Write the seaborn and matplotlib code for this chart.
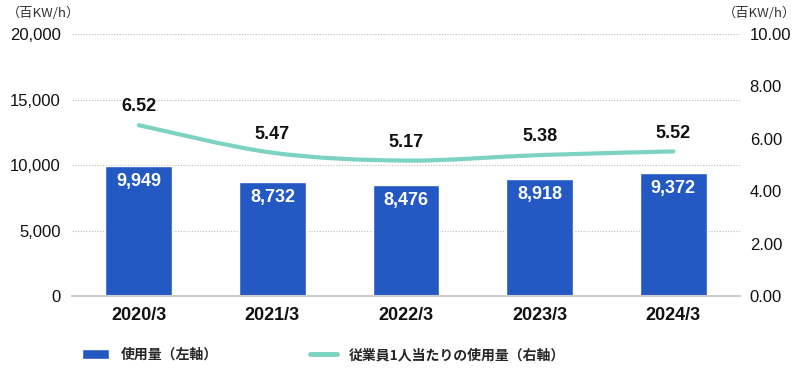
import numpy as np
import seaborn as sns
import matplotlib.pyplot as plt
from matplotlib.path import Path
from matplotlib.patches import PathPatch, Patch
from matplotlib.lines import Line2D

years = ["2020/3", "2021/3", "2022/3", "2023/3", "2024/3"]
usage = [9949, 8732, 8476, 8918, 9372]
per_person = [6.52, 5.47, 5.17, 5.38, 5.52]
left_ticks = [0, 5000, 10000, 15000, 20000]
right_ticks = [0, 2, 4, 6, 8, 10]

bar_color = "#2459C4"
line_color = "#7DD3C1"

sns.set_theme(style="white")
plt.rcParams['font.family'] = ['Liberation Sans', 'Noto Sans CJK JP', 'DejaVu Sans']
jp = ['Noto Sans CJK JP', 'DejaVu Sans']

fig = plt.figure(figsize=(8, 3.7), dpi=100)
ax = fig.add_axes([0.09, 0.2, 0.835, 0.708])

# 棒グラフ（左軸）
sns.barplot(x=years, y=usage, color=bar_color, saturation=1, width=0.5, ax=ax, zorder=2)
ax.set_ylim(0, 20000)
ax.set_xlim(-0.5, 4.5)
ax.set_yticks(left_ticks)
ax.set_yticklabels([f"{v:,}" for v in left_ticks], fontsize=12, color="#111111")
ax.set_xticks(range(len(years)))
ax.set_xticklabels(years, fontsize=13, fontweight="bold", color="#111111")
ax.set_xlabel("")
ax.set_ylabel("")
ax.tick_params(axis="y", length=0, pad=8)
ax.tick_params(axis="x", length=0, pad=8)
ax.yaxis.grid(True, color="#BBBBBB", linestyle=(0, (1, 1.5)), linewidth=0.8)
ax.set_axisbelow(True)
for s in ["top", "left", "right"]:
    ax.spines[s].set_visible(False)
ax.spines["bottom"].set_color("#CCCCCC")
ax.spines["bottom"].set_linewidth(1.5)

for i, v in enumerate(usage):
    ax.annotate(f"{v:,}", (i, v), xytext=(0, -5), textcoords="offset points",
                ha="center", va="top", color="white", fontsize=13, fontweight="bold")

# 折れ線（右軸）
ax2 = ax.twinx()
ax2.set_ylim(0, 10)
ax2.set_yticks(right_ticks)
ax2.set_yticklabels([f"{v:.2f}" for v in right_ticks], fontsize=12, color="#111111")
ax2.tick_params(axis="y", length=0, pad=7)
ax2.grid(False)
for s in ["top", "left", "right", "bottom"]:
    ax2.spines[s].set_visible(False)

pts = np.column_stack([np.arange(len(per_person)), per_person]).astype(float)
ext = np.vstack([pts[0], pts, pts[-1]])
verts = [tuple(pts[0])]
codes = [Path.MOVETO]
for i in range(len(pts) - 1):
    p0, p1, p2, p3 = ext[i], ext[i + 1], ext[i + 2], ext[i + 3]
    c1 = p1 + (p2 - p0) / 6
    c2 = p2 - (p3 - p1) / 6
    verts += [tuple(c1), tuple(c2), tuple(p2)]
    codes += [Path.CURVE4] * 3
ax2.add_patch(PathPatch(Path(verts, codes), facecolor="none", edgecolor=line_color,
                        linewidth=3, capstyle="round", zorder=3))

for i, v in enumerate(per_person):
    ax2.annotate(f"{v:.2f}", (i, v), xytext=(0, 7), textcoords="offset points",
                 ha="center", va="bottom", color="#111111", fontsize=13, fontweight="bold")

# 単位
fig.text(0.008, 0.965, "（百KW/h）", family=jp, fontsize=9.5, color="#333333", va="center", ha="left")
fig.text(0.995, 0.965, "（百KW/h）", family=jp, fontsize=9.5, color="#333333", va="center", ha="right")

# 凡例
h1 = Patch(facecolor=bar_color, label="使用量（左軸）")
h2 = Line2D([], [], color=line_color, linewidth=3.5, label="従業員1人当たりの使用量（右軸）")
for h, x0 in [(h1, 82 / 800), (h2, 310 / 800)]:
    fig.legend(handles=[h], loc="center left", bbox_to_anchor=(x0, 1 - 355 / 370),
               frameon=False, borderpad=0, borderaxespad=0, handlelength=1.95,
               handletextpad=0.85, prop={"family": jp, "weight": "bold", "size": 10})

fig.savefig("out.png", dpi=100)
